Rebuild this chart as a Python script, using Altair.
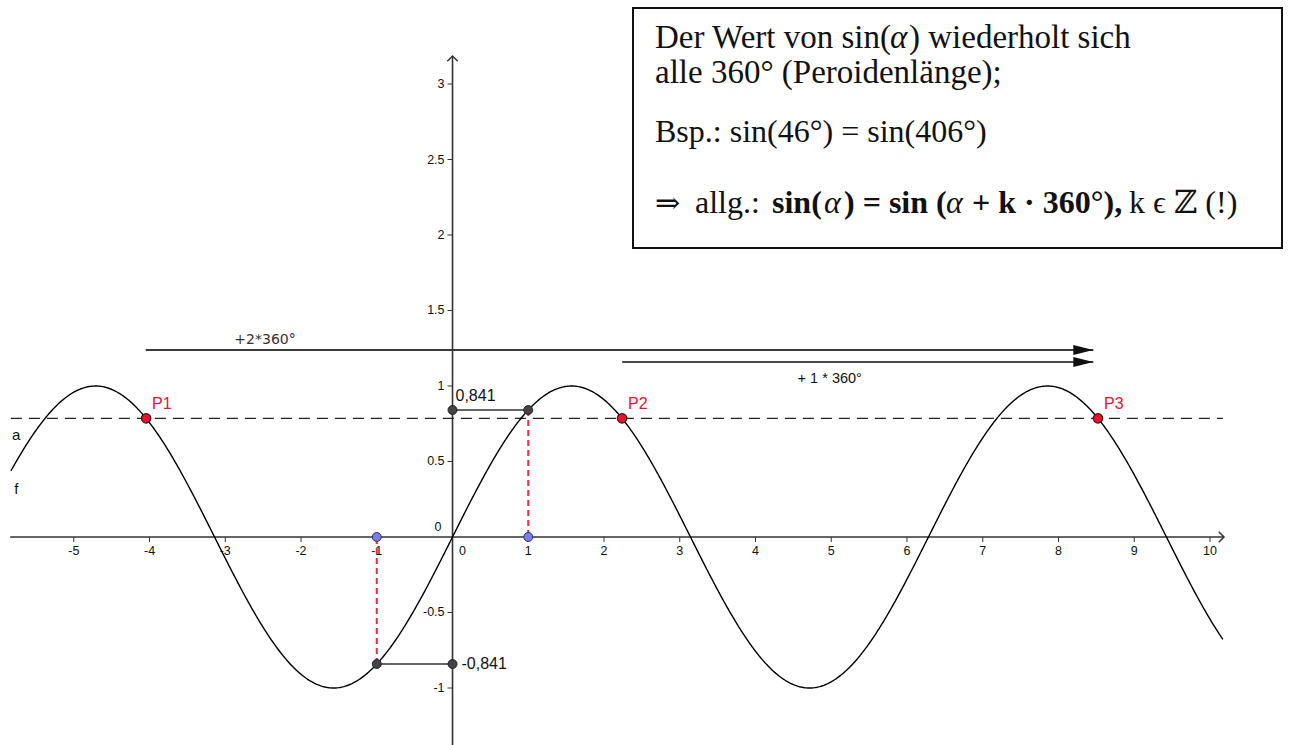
import altair as alt
import numpy as np
import pandas as pd

# ---- values -------------------------------------------------------------
CURVE_START, CURVE_END = -5.83, 10.17          # visible part of f(x) = sin(x)
X_TICKS = [-5, -4, -3, -2, -1, 1, 2, 3, 4, 5, 6, 7, 8, 9, 10]
Y_TICKS = [-1, -0.5, 0.5, 1, 1.5, 2, 2.5, 3]
LINE_A = 0.786                                  # horizontal line a
P_NAMES = ["P1", "P2", "P3"]
P_X = [-4.045, 2.238, 8.521]                    # intersections of f and a
PROJ_X = [1, -1]                                # projected angles
PROJ_Y = [0.841, -0.841]                        # sin(1), sin(-1)
PROJ_LABELS = ["0,841", "-0,841"]
ARROW_Y = [1.238, 1.159]
ARROW_START = [-4.05, 2.24]
ARROW_END = [8.46, 8.46]
ARROW_LABELS = ["+2*360°", "+ 1 * 360°"]
ARROW_LABEL_X = [-2.475, 4.98]
ARROW_LABEL_Y = [1.305, 1.046]
NAME_LABELS = ["a", "f"]
NAME_X = [-5.76, -5.76]
NAME_Y = [0.675, 0.318]

# ---- scales -------------------------------------------------------------
W, H = 1289, 745
XS = alt.Scale(domain=[-5.974, 11.043], nice=False, zero=False)
YS = alt.Scale(domain=[-1.3775, 3.5563], nice=False, zero=False)


def X(f="x"):
    return alt.X(f"{f}:Q", scale=XS, axis=None)


def Y(f="y"):
    return alt.Y(f"{f}:Q", scale=YS, axis=None)


SANS = "Liberation Sans"
SERIF = "Liberation Serif"
AX_COL = "#333333"
RED = "#f0284a"

layers = []

# axes
axes_df = pd.DataFrame({"x": [-5.84, 0], "x2": [10.185, 0],
                        "y": [0, -1.3775], "y2": [0, 3.185]})
layers.append(alt.Chart(axes_df).mark_rule(color=AX_COL, strokeWidth=1.6).encode(
    x=X(), x2="x2:Q", y=Y(), y2="y2:Q"))

# axis arrow heads
layers.append(alt.Chart(pd.DataFrame({"x": [10.185], "y": [0]})).mark_point(
    shape="M-1,-1L0,0L-1,1", size=110, filled=False, color=AX_COL, strokeWidth=1.5,
    opacity=1).encode(x=X(), y=Y()))
layers.append(alt.Chart(pd.DataFrame({"x": [0], "y": [3.185]})).mark_point(
    shape="M-1,1L0,0L1,1", size=110, filled=False, color=AX_COL, strokeWidth=1.5,
    opacity=1).encode(x=X(), y=Y()))

# tick marks
TX = 5 / 151
TY = 5 / 75.75
xt = pd.DataFrame({"x": X_TICKS, "y": 0.0, "y2": -TX})
layers.append(alt.Chart(xt).mark_rule(color=AX_COL, strokeWidth=1).encode(
    x=X(), y=Y(), y2="y2:Q"))
yt = pd.DataFrame({"y": Y_TICKS, "x": 0.0, "x2": -TY})
layers.append(alt.Chart(yt).mark_rule(color=AX_COL, strokeWidth=1).encode(
    x=X(), x2="x2:Q", y=Y()))

# tick labels
xl = pd.DataFrame({"x": X_TICKS, "y": 0.0, "t": [str(v) for v in X_TICKS]})
layers.append(alt.Chart(xl).mark_text(font=SANS, fontSize=12.5, color="#111", dy=14,
                                      baseline="middle").encode(x=X(), y=Y(), text="t:N"))
yl = pd.DataFrame({"y": Y_TICKS, "x": 0.0, "t": [f"{v:g}" for v in Y_TICKS]})
layers.append(alt.Chart(yl).mark_text(font=SANS, fontSize=12.5, color="#111", dx=-8,
                                      align="right", baseline="middle").encode(
    x=X(), y=Y(), text="t:N"))
origin = pd.DataFrame({"x": [0.0, 0.0], "y": [0.0, 0.0], "t": ["0", "0"]})
layers.append(alt.Chart(origin.iloc[[0]]).mark_text(
    font=SANS, fontSize=12.5, color="#111", dx=10, dy=14, baseline="middle").encode(
    x=X(), y=Y(), text="t:N"))
layers.append(alt.Chart(origin.iloc[[1]]).mark_text(
    font=SANS, fontSize=12.5, color="#111", dx=-11, dy=-10, baseline="middle",
    align="right").encode(x=X(), y=Y(), text="t:N"))

# dashed line a
layers.append(alt.Chart(pd.DataFrame({"x": [CURVE_START], "x2": [10.17], "y": [LINE_A]}))
              .mark_rule(color="#222", strokeWidth=1.3, strokeDash=[11, 7])
              .encode(x=X(), x2="x2:Q", y=Y()))

# the +k*360° arrows
arr = pd.DataFrame({"x": ARROW_START, "x2": ARROW_END, "y": ARROW_Y})
layers.append(alt.Chart(arr.iloc[[0]]).mark_rule(color="#3a3a3a", strokeWidth=2)
              .encode(x=X(), x2="x2:Q", y=Y()))
layers.append(alt.Chart(arr.iloc[[1]]).mark_rule(color="#111", strokeWidth=1.5)
              .encode(x=X(), x2="x2:Q", y=Y()))
heads = pd.DataFrame({"x": ARROW_END, "y": ARROW_Y})
layers.append(alt.Chart(heads).mark_point(
    shape="M0,0L-2,-0.5L-2,0.5Z", size=400, filled=True, color="#111", opacity=1)
    .encode(x=X(), y=Y()))
al = pd.DataFrame({"x": ARROW_LABEL_X, "y": ARROW_LABEL_Y, "t": ARROW_LABELS})
layers.append(alt.Chart(al.iloc[[0]]).mark_text(
    font="DejaVu Sans", fontSize=14, color="#333").encode(x=X(), y=Y(), text="t:N"))
layers.append(alt.Chart(al.iloc[[1]]).mark_text(
    font=SANS, fontSize=14.5, color="#111").encode(x=X(), y=Y(), text="t:N"))

# projection segments
proj = pd.DataFrame({"x": PROJ_X, "y": PROJ_Y, "zero": [0.0, 0.0]})
layers.append(alt.Chart(proj).mark_rule(color=RED, strokeWidth=2, strokeDash=[6, 4])
              .encode(x=X(), y=Y(), y2="zero:Q"))
layers.append(alt.Chart(proj).mark_rule(color="#333", strokeWidth=1.5)
              .encode(x=X(), x2="zero:Q", y=Y()))

# sine curve f
xs = np.linspace(CURVE_START, CURVE_END, 900)
curve = pd.DataFrame({"x": xs, "y": np.sin(xs)})
layers.append(alt.Chart(curve).mark_line(color="#000", strokeWidth=1.4).encode(
    x=X(), y=Y(), order="x:Q"))

# points
gray = pd.DataFrame({"x": PROJ_X + [0, 0], "y": PROJ_Y + PROJ_Y})
layers.append(alt.Chart(gray).mark_point(
    shape="circle", size=80, filled=True, color="#444", stroke="#222", strokeWidth=1,
    opacity=1).encode(x=X(), y=Y()))
blue = pd.DataFrame({"x": PROJ_X, "y": [0.0, 0.0]})
layers.append(alt.Chart(blue).mark_point(
    shape="circle", size=80, filled=True, fill="#7b7bff", stroke="#333", strokeWidth=1,
    opacity=1).encode(x=X(), y=Y()))
pts = pd.DataFrame({"x": P_X, "y": LINE_A, "t": P_NAMES})
layers.append(alt.Chart(pts).mark_point(
    shape="circle", size=90, filled=True, fill="#ff0a2a", stroke="#222", strokeWidth=1.2,
    opacity=1).encode(x=X(), y=Y()))
layers.append(alt.Chart(pts).mark_text(
    font=SANS, fontSize=16, color="#ee1133", align="left", dx=6, dy=-14,
    baseline="middle").encode(x=X(), y=Y(), text="t:N"))

# value labels
pl = pd.DataFrame({"x": [0.0, 0.0], "y": PROJ_Y, "t": PROJ_LABELS})
layers.append(alt.Chart(pl.iloc[[0]]).mark_text(
    font=SANS, fontSize=16, color="#111", align="left", dx=3, dy=-14, baseline="middle")
    .encode(x=X(), y=Y(), text="t:N"))
layers.append(alt.Chart(pl.iloc[[1]]).mark_text(
    font=SANS, fontSize=16, color="#111", align="left", dx=9, baseline="middle")
    .encode(x=X(), y=Y(), text="t:N"))

# object names
nm = pd.DataFrame({"x": NAME_X, "y": NAME_Y, "t": NAME_LABELS})
layers.append(alt.Chart(nm).mark_text(font=SANS, fontSize=15, color="#111",
                                      baseline="middle").encode(x=X(), y=Y(), text="t:N"))

# ---- text box -----------------------------------------------------------
box = alt.Chart(pd.DataFrame({"k": [0]})).mark_rect(
    fill="white", stroke="#111", strokeWidth=2).encode(
    x=alt.value(633), x2=alt.value(1282), y=alt.value(8), y2=alt.value(248))
layers.append(box)


def seg(text, x, y, weight="normal", style="normal", size=32):
    return alt.Chart(pd.DataFrame({"k": [0]})).mark_text(
        font=f"{SERIF}, DejaVu Serif", fontSize=size, fontWeight=weight, fontStyle=style,
        align="left", baseline="alphabetic", color="#111").encode(
        x=alt.value(x), y=alt.value(y), text=alt.value(text))


layers += [
    seg("Der Wert von sin(", 655, 48, size=33),
    seg("α", 890, 48, style="italic", size=33),
    seg(") wiederholt sich", 909, 48, size=33),
    seg("alle 360° (Peroidenlänge);", 655, 83, size=33),
    seg("Bsp.: sin(46°) = sin(406°)", 655, 142),
    seg("⇒", 655, 213, size=30),
    seg("allg.:", 695, 213),
    seg("sin(", 772, 213, weight="bold"),
    seg("α", 824, 213, style="italic"),
    seg(") = sin (", 844, 213, weight="bold"),
    seg("α", 946, 213, style="italic"),
    seg("+ k · 360°),", 972, 213, weight="bold"),
    seg("k ϵ ℤ (!)", 1129, 213),
]

chart = alt.layer(*layers).properties(
    width=W, height=H, padding=0, autosize=alt.AutoSizeParams(type="none"),
    background="white",
).configure_view(stroke=None)

chart.save("out.html", embed_options={"renderer": "svg", "actions": False})
